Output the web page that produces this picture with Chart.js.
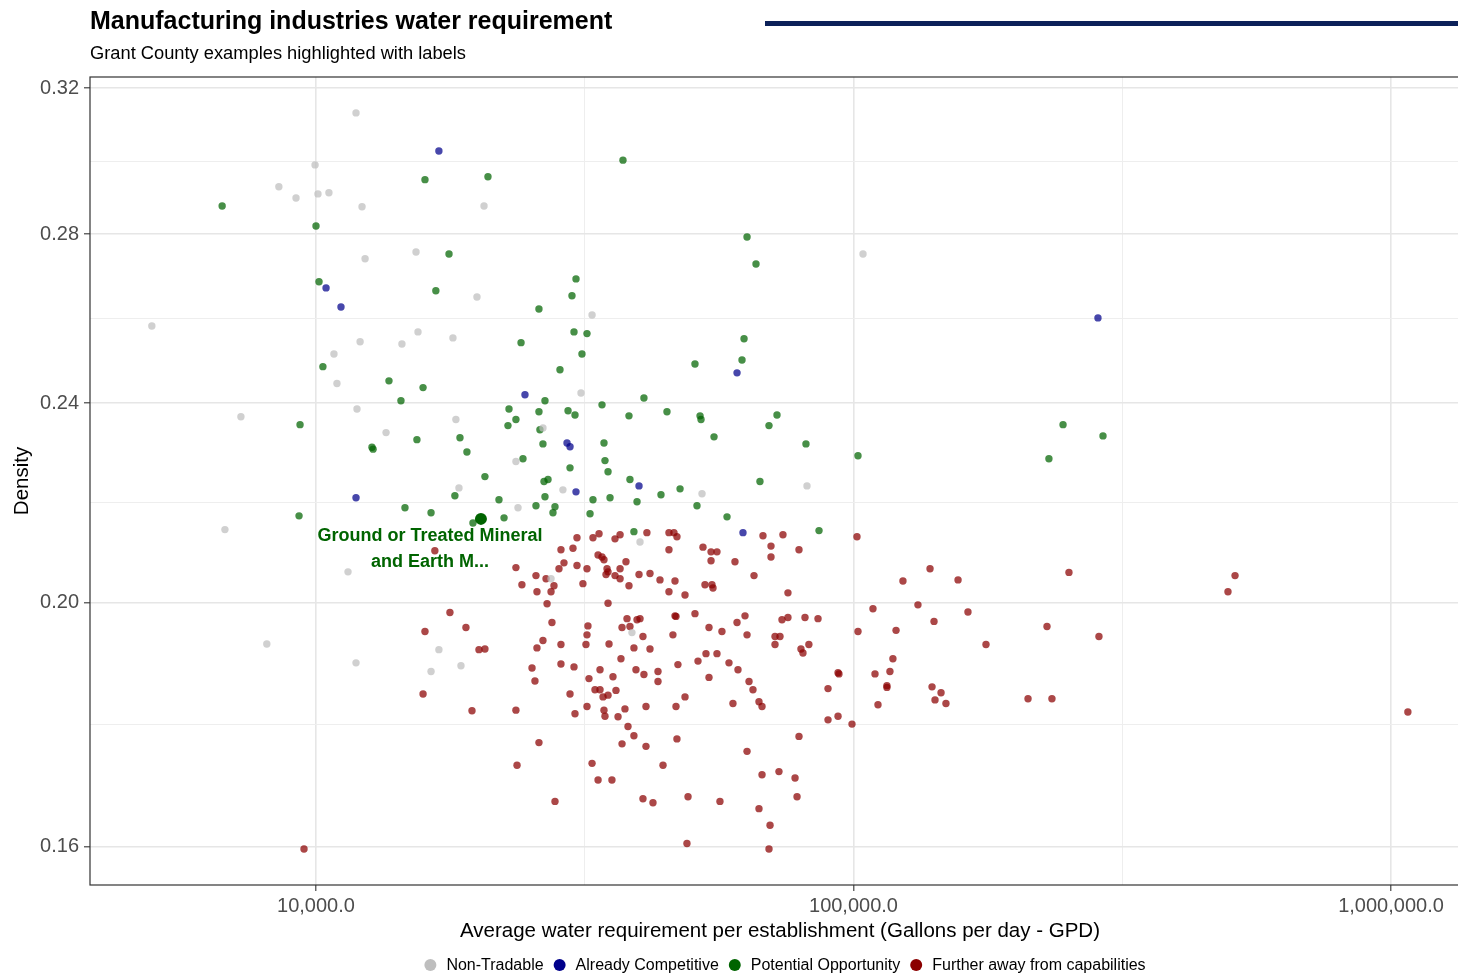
<!DOCTYPE html>
<html>
<head>
<meta charset="utf-8">
<script src="https://cdn.jsdelivr.net/npm/chart.js@4.4.1/dist/chart.umd.min.js"></script>
<style>
  html, body { margin: 0; padding: 0; background: #ffffff; overflow: hidden; }
  #wrap { position: relative; width: 1458px; height: 977px; overflow: hidden; }
  #c { display: block; }
</style>
</head>
<body>
<div id="wrap"><canvas id="c" width="1476" height="977" style="width:1476px;height:977px"></canvas></div>
<script>
// ---------------- DATA ----------------
const chartTitle = "Manufacturing industries water requirement";
const chartSubtitle = "Grant County examples highlighted with labels";
const xAxisTitle = "Average water requirement per establishment (Gallons per day - GPD)";
const yAxisTitle = "Density";

const categories = ["Non-Tradable", "Already Competitive", "Potential Opportunity", "Further away from capabilities"];

const xTickValues = [10000, 100000, 1000000];
const xTickLabels = ["10,000.0", "100,000.0", "1,000,000.0"];
const xMinorValues = [31622.78, 316227.8];
const yTickValues = [0.16, 0.20, 0.24, 0.28, 0.32];
const yTickLabels = ["0.16", "0.20", "0.24", "0.28", "0.32"];
const yMinorValues = [0.1789, 0.2191, 0.2592, 0.2993];
const xRange = [3798, 1402800];
const yRange = [0.15454, 0.32323];

const nonTradableGPD = [11870, 9960, 8530, 9180, 10085, 10570, 12180, 20540, 15350, 12340,
  4950, 19930, 32630, 15480, 14450, 12080, 17980, 10800, 10940, 31120,
  11920, 7250, 13500, 18210, 26440, 23550, 18450, 28800, 52260, 81940,
  23760, 6770, 40070, 11470, 27370, 8100, 38710, 16930, 18610, 11870,
  16370, 104160];
const nonTradableDensity = [0.3128, 0.2983, 0.2924, 0.2894, 0.2905, 0.2908, 0.2871, 0.2873, 0.2755, 0.2738,
  0.2575, 0.2644, 0.2601, 0.2561, 0.2533, 0.2538, 0.2547, 0.2510, 0.2443, 0.2422,
  0.2387, 0.2370, 0.2336, 0.2364, 0.2346, 0.2275, 0.2221, 0.2217, 0.2209, 0.2225,
  0.2181, 0.2138, 0.2114, 0.2057, 0.2044, 0.1926, 0.1946, 0.1916, 0.1888, 0.1893,
  0.1878, 0.2750];

const alreadyCompetitiveGPD = [16930, 10440, 11130, 24480, 29310, 29690, 39900, 30460, 11870, 60720, 62290, 285000];
const alreadyCompetitiveDensity = [0.3021, 0.2666, 0.2620, 0.2418, 0.2314, 0.2306, 0.2225, 0.2213, 0.2201, 0.2467, 0.2132, 0.2594];

const potentialOpportunityGPD = [6690, 10000, 10130, 10300, 13670, 14390, 9340, 15410, 12710, 12770,
  14640, 9300, 15950, 20890, 17680, 16710, 30460, 29940, 25990, 30200,
  31930, 24070, 31250, 28440, 37250, 63380, 65860, 62570, 62030, 50710,
  15820, 26670, 22860, 25990, 23550, 22760, 26100, 18530, 19090, 26440,
  24270, 20620, 26560, 27020, 18130, 21900, 26670, 25660, 27840, 27600,
  16370, 22380, 19590, 40750, 34050, 29440, 30330, 38220, 44980, 51820,
  52040, 55020, 34340, 34490, 34940, 29690, 38380, 35240, 32760, 39560,
  43840, 47570, 51150, 32350, 39040, 72060, 69630, 81580, 101950, 66990,
  58170, 86270, 245400, 291200, 231000];
const potentialOpportunityDensity = [0.2873, 0.2821, 0.2681, 0.2481, 0.2449, 0.2405, 0.2353, 0.2321, 0.2305, 0.2301,
  0.2181, 0.2165, 0.2943, 0.2951, 0.2750, 0.2659, 0.2688, 0.2647, 0.2615, 0.2561,
  0.2557, 0.2536, 0.2510, 0.2474, 0.2996, 0.2793, 0.2725, 0.2545, 0.2496, 0.2487,
  0.2434, 0.2405, 0.2387, 0.2381, 0.2364, 0.2351, 0.2342, 0.2325, 0.2295, 0.2312,
  0.2281, 0.2244, 0.2234, 0.2238, 0.2205, 0.2197, 0.2203, 0.2185, 0.2183, 0.2171,
  0.2171, 0.2161, 0.2151, 0.2411, 0.2396, 0.2383, 0.2374, 0.2372, 0.2381, 0.2372,
  0.2364, 0.2327, 0.2314, 0.2277, 0.2254, 0.2262, 0.2238, 0.2201, 0.2197, 0.2193,
  0.2207, 0.2219, 0.2185, 0.2169, 0.2134, 0.2374, 0.2351, 0.2312, 0.2287, 0.2234,
  0.2163, 0.2136, 0.2353, 0.2329, 0.2281];

const furtherAwayGPD = [30590, 32760, 33620, 36000, 36790, 41270, 45360, 46340, 46940, 28560,
  30070, 45360, 52480, 54320, 55720, 33480, 34050, 67860, 73920, 70230,
  79180, 101510, 70230, 16640, 23550, 25660, 26790, 27720, 24160, 25770,
  27370, 28320, 26910, 17750, 27480, 15950, 19010, 26440, 25770, 20100,
  20620, 25230, 25550, 15820, 19510, 23550, 28560, 28560, 34340, 28930,
  30590, 31930, 34790, 34940, 34640, 37730, 36790, 36000, 36790, 38220,
  39900, 41820, 43650, 46550, 54320, 52930, 54540, 54780, 45360, 48590,
  31380, 34940, 32060, 31930, 31790, 37900, 39560, 40070, 37100, 38380,
  40580, 35090, 39040, 41820, 46550, 46750, 50710, 53850, 46140, 53160,
  55720, 51370, 47140, 36930, 30200, 33760, 39380, 43280, 35690, 40750,
  32200, 43280, 53850, 33040, 33760, 36150, 34200, 34940, 29690, 48590,
  31930, 37570, 41110, 46750, 34340, 34490, 30330, 36470, 60190, 65300,
  75520, 108700, 101950, 109650, 111070, 62830, 60720, 56920, 63380, 73620,
  75520, 81240, 85900, 71450, 72990, 71450, 79850, 80540, 82600, 58660,
  60970, 63920, 65010, 93590, 93970, 89660, 59670, 66710, 67580, 93590,
  89660, 99360, 38060, 39040, 37100, 41110, 46940, 25990, 79180, 63380,
  32630, 44220, 23660, 33480, 35530, 67580, 72670, 77850, 78520, 66710,
  27840, 40580, 42360, 49220, 56440, 69940, 49000, 69630, 9500, 138800,
  123600, 156500, 251700, 512700, 497400, 131800, 163300, 141200, 120000, 229100,
  286200, 176400, 118400, 116900, 115400, 115400, 140000, 145500, 141800, 148600,
  211200, 234000, 1075000];
const furtherAwayDensity = [0.2122, 0.2122, 0.2130, 0.2120, 0.2128, 0.2132, 0.2132, 0.2132, 0.2124, 0.2099,
  0.2102, 0.2099, 0.2104, 0.2095, 0.2095, 0.2089, 0.2085, 0.2126, 0.2128, 0.2106,
  0.2099, 0.2124, 0.2085, 0.2097, 0.2065, 0.2050, 0.2044, 0.2031, 0.2033, 0.2020,
  0.2020, 0.2063, 0.1998, 0.1982, 0.1964, 0.1948, 0.1955, 0.1932, 0.1919, 0.1916,
  0.1917, 0.1884, 0.1862, 0.1840, 0.1812, 0.1813, 0.1925, 0.1891, 0.2080, 0.2074,
  0.2069, 0.2063, 0.2063, 0.2057, 0.2052, 0.2076, 0.2063, 0.2050, 0.2044, 0.2031,
  0.2052, 0.2054, 0.2042, 0.2040, 0.2078, 0.2033, 0.2033, 0.2027, 0.2020, 0.2014,
  0.2035, 0.1999, 0.1958, 0.1942, 0.1925, 0.1971, 0.1969, 0.1971, 0.1955, 0.1957,
  0.1939, 0.1926, 0.1919, 0.1917, 0.1976, 0.1975, 0.1980, 0.1955, 0.1942, 0.1909,
  0.1909, 0.1896, 0.1890, 0.1900, 0.1886, 0.1881, 0.1881, 0.1878, 0.1869, 0.1873,
  0.1866, 0.1861, 0.1868, 0.1847, 0.1847, 0.1846, 0.1835, 0.1838, 0.1840, 0.1835,
  0.1819, 0.1815, 0.1819, 0.1819, 0.1813, 0.1803, 0.1807, 0.1802, 0.2076, 0.2050,
  0.2018, 0.1989, 0.1948, 0.1874, 0.1822, 0.1976, 0.1964, 0.1948, 0.1942, 0.1969,
  0.1973, 0.1973, 0.1971, 0.1939, 0.1939, 0.1925, 0.1917, 0.1910, 0.1925, 0.1893,
  0.1881, 0.1861, 0.1847, 0.1876, 0.1874, 0.1849, 0.1824, 0.1827, 0.1819, 0.1803,
  0.1797, 0.1790, 0.1786, 0.1771, 0.1758, 0.1754, 0.1766, 0.1760, 0.1770, 0.1746,
  0.1727, 0.1724, 0.1724, 0.1701, 0.1701, 0.1709, 0.1714, 0.1704, 0.1675, 0.1657,
  0.1668, 0.1672, 0.1666, 0.1675, 0.1668, 0.1632, 0.1605, 0.1597, 0.1597, 0.2063,
  0.2040, 0.2042, 0.2056, 0.2050, 0.2020, 0.1996, 0.1983, 0.1966, 0.1950, 0.1957,
  0.1939, 0.1925, 0.1900, 0.1878, 0.1851, 0.1854, 0.1852, 0.1842, 0.1830, 0.1824,
  0.1832, 0.1832, 0.1810];

const highlightName = "Ground or Treated Mineral and Earth M...";
const highlightLabelLines = ["Ground or Treated Mineral", "and Earth M..."];
const highlightGPD = [20270];
const highlightDensity = [0.2159];

// ---------------- STYLE ----------------
const FONT = '"Liberation Sans", Arial, Helvetica, sans-serif';
const legendColors = ["#bebebe", "#00008b", "#006400", "#8b0000"];
const pointColors = ["rgba(190,190,190,0.72)", "rgba(0,0,139,0.72)", "rgba(0,100,0,0.72)", "rgba(139,0,0,0.72)"];

function toPoints(xs, ys) { return xs.map((v, i) => ({ x: v, y: ys[i] })); }

const seriesX = [nonTradableGPD, alreadyCompetitiveGPD, potentialOpportunityGPD, furtherAwayGPD];
const seriesY = [nonTradableDensity, alreadyCompetitiveDensity, potentialOpportunityDensity, furtherAwayDensity];

const datasets = [{
  label: highlightName,
  data: toPoints(highlightGPD, highlightDensity),
  backgroundColor: "#006400",
  borderWidth: 0,
  pointRadius: 6,
  pointHoverRadius: 6
}];
categories.forEach((c, i) => {
  datasets.push({
    label: c,
    data: toPoints(seriesX[i], seriesY[i]),
    backgroundColor: pointColors[i],
    borderWidth: 0,
    pointRadius: 3.7,
    pointHoverRadius: 3.7
  });
});

const isMajorX = v => xTickValues.indexOf(v) >= 0;
const isMajorY = v => yTickValues.indexOf(v) >= 0;

const decorPlugin = {
  id: "decor",
  afterDatasetsDraw(chart) {
    const { ctx } = chart;
    const sx = chart.scales.x, sy = chart.scales.y;
    const px = sx.getPixelForValue(highlightGPD[0]);
    const py = sy.getPixelForValue(highlightDensity[0]);
    ctx.save();
    ctx.font = "bold 18px " + FONT;
    ctx.fillStyle = "#006400";
    ctx.textAlign = "center";
    ctx.textBaseline = "middle";
    highlightLabelLines.forEach((t, i) => ctx.fillText(t, px - 51, py + 17 + i * 26));
    ctx.restore();
  },
  afterDraw(chart) {
    const { ctx, chartArea: a } = chart;
    ctx.save();
    ctx.strokeStyle = "#333333";
    ctx.lineWidth = 1.2;
    ctx.strokeRect(a.left, a.top, a.right - a.left, a.bottom - a.top);

    ctx.fillStyle = "#000000";
    ctx.textAlign = "left";
    ctx.textBaseline = "alphabetic";
    ctx.font = "bold 25px " + FONT;
    ctx.fillText(chartTitle, 90, 29);
    ctx.font = "18.3px " + FONT;
    ctx.fillText(chartSubtitle, 90, 59);

    ctx.fillStyle = "#0c2159";
    ctx.fillRect(765, 21, 1458 - 765, 5);

    ctx.font = "16px " + FONT;
    const widths = categories.map(c => ctx.measureText(c).width);
    const r = 6, gapText = 10, gapItem = 10;
    let total = 0;
    widths.forEach((w, i) => { total += 2 * r + gapText + w + (i < widths.length - 1 ? gapItem : 0); });
    let cx = 785 - total / 2;
    const ly = 965;
    ctx.textBaseline = "middle";
    categories.forEach((c, i) => {
      ctx.fillStyle = legendColors[i];
      ctx.beginPath();
      ctx.arc(cx + r, ly, r, 0, Math.PI * 2);
      ctx.fill();
      ctx.fillStyle = "#000000";
      ctx.fillText(c, cx + 2 * r + gapText, ly + 1);
      cx += 2 * r + gapText + widths[i] + gapItem;
    });
    ctx.restore();
  }
};

Chart.defaults.font.family = FONT;

new Chart(document.getElementById("c"), {
  type: "scatter",
  data: { datasets },
  options: {
    responsive: false,
    animation: false,
    devicePixelRatio: 1,
    layout: { padding: { top: 77, left: 0, right: 0, bottom: 0 } },
    plugins: {
      legend: { display: false },
      tooltip: { enabled: false },
      title: { display: false }
    },
    scales: {
      x: {
        type: "logarithmic",
        min: xRange[0],
        max: xRange[1],
        afterFit: s => { s.height = 92; s.paddingLeft = 0; s.paddingRight = 0; },
        afterBuildTicks: s => {
          s.ticks = xTickValues.concat(xMinorValues).sort((a, b) => a - b).map(v => ({ value: v }));
        },
        ticks: {
          autoSkip: false, maxRotation: 0, minRotation: 0, padding: 3,
          color: "#4d4d4d", font: { size: 20 },
          callback: v => { const i = xTickValues.indexOf(v); return i >= 0 ? xTickLabels[i] : ""; }
        },
        grid: {
          color: c => isMajorX(c.tick.value) ? "#e6e6e6" : "#eeeeee",
          lineWidth: c => isMajorX(c.tick.value) ? 1.6 : 1,
          drawTicks: true, tickLength: 6, tickWidth: 1.1,
          tickColor: c => isMajorX(c.tick.value) ? "#333333" : "rgba(0,0,0,0)"
        },
        border: { display: false },
        title: { display: true, text: xAxisTitle, color: "#000000", font: { size: 20.5 }, padding: { top: 0, bottom: 33 } }
      },
      y: {
        type: "logarithmic",
        min: yRange[0],
        max: yRange[1],
        afterFit: s => { s.width = 90; s.paddingTop = 0; s.paddingBottom = 0; },
        afterBuildTicks: s => {
          s.ticks = yTickValues.concat(yMinorValues).sort((a, b) => a - b).map(v => ({ value: v }));
        },
        ticks: {
          autoSkip: false, padding: 5,
          color: "#4d4d4d", font: { size: 20 },
          callback: v => { const i = yTickValues.indexOf(v); return i >= 0 ? yTickLabels[i] : ""; }
        },
        grid: {
          color: c => isMajorY(c.tick.value) ? "#e6e6e6" : "#eeeeee",
          lineWidth: c => isMajorY(c.tick.value) ? 1.6 : 1,
          drawTicks: true, tickLength: 6, tickWidth: 1.1,
          tickColor: c => isMajorY(c.tick.value) ? "#333333" : "rgba(0,0,0,0)"
        },
        border: { display: false },
        title: { display: true, text: yAxisTitle, color: "#000000", font: { size: 20.5 }, padding: { top: 10, bottom: 0 } }
      }
    }
  },
  plugins: [decorPlugin]
});
</script>
</body>
</html>
